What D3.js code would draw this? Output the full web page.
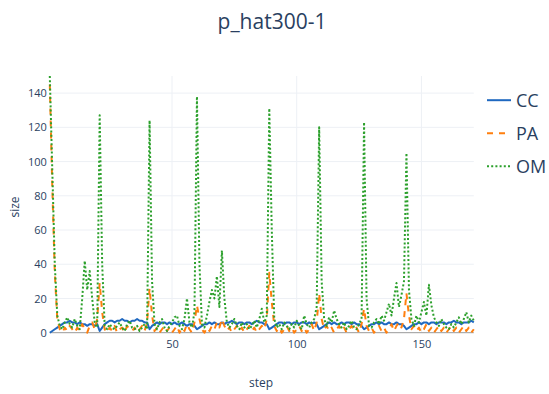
<!DOCTYPE html>
<html>
<head>
<meta charset="utf-8">
<script src="https://cdn.jsdelivr.net/npm/d3@7"></script>
<style>
  html, body { margin: 0; padding: 0; background: #fff; }
  svg { display: block; font-family: "Open Sans", sans-serif; }
</style>
</head>
<body>
<svg id="chart" width="549" height="394"></svg>
<script>
// Series sizes per step (steps 1..171)
const CC = [
  0, 1, 2, 3, 4, 5, 6, 6, 7, 6,
  6, 5, 6, 5, 5, 4, 5, 5, 4, 5,
  1, 3, 5, 6, 7, 7, 6, 7, 7, 8,
  7, 7, 6, 7, 7, 8, 7, 7, 6, 6,
  2, 4, 5, 6, 5, 6, 6, 5, 6, 5,
  6, 5, 5, 6, 5, 4, 5, 5, 4, 2,
  3, 4, 5, 5, 6, 5, 6, 5, 5, 6,
  5, 6, 6, 7, 6, 5, 6, 6, 5, 6,
  6, 5, 6, 7, 6, 6, 5, 5, 2, 3,
  4, 5, 6, 6, 5, 6, 6, 5, 6, 6,
  5, 6, 6, 5, 6, 5, 6, 5, 2, 3,
  4, 5, 6, 5, 6, 5, 5, 6, 5, 6,
  6, 5, 6, 5, 5, 4, 2, 3, 4, 5,
  5, 6, 5, 6, 5, 5, 6, 5, 5, 6,
  5, 5, 4, 2, 3, 4, 5, 5, 6, 5,
  6, 6, 5, 6, 6, 5, 6, 6, 6, 5,
  6, 6, 7, 6, 6, 5, 6, 6, 6, 7, 6
];
const PA = [
  145, 85, 35, 8, 2, 0, 3, 1, 4, 2,
  0, 3, 1, 5, 2, 0, 4, 6, 2, 8,
  29, 12, 2, 0, 3, 1, 4, 0, 2, 3,
  0, 4, 2, 1, 3, 0, 2, 4, 1, 6,
  26, 10, 1, 3, 0, 2, 4, 1, 3, 0,
  2, 4, 0, 3, 1, 5, 2, 0, 6, 16,
  8, 2, 0, 3, 1, 4, 2, 6, 3, 8,
  4, 1, 3, 0, 2, 4, 1, 3, 0, 2,
  4, 1, 3, 0, 2, 4, 2, 8, 35, 18,
  4, 1, 3, 0, 2, 4, 1, 3, 0, 2,
  4, 1, 3, 0, 2, 5, 1, 6, 23, 8,
  2, 4, 1, 3, 0, 2, 4, 1, 3, 0,
  2, 4, 1, 3, 0, 5, 14, 4, 1, 3,
  0, 2, 4, 1, 3, 0, 2, 5, 1, 4,
  6, 3, 8, 23, 10, 2, 4, 1, 3, 0,
  2, 5, 1, 3, 0, 2, 4, 1, 3, 0,
  2, 4, 1, 3, 0, 2, 4, 1, 3, 0, 2
];
const OM = [
  150, 95, 40, 10, 4, 2, 6, 9, 5, 3,
  8, 4, 2, 20, 42, 25, 36, 20, 6, 3,
  127, 40, 4, 2, 5, 3, 2, 4, 6, 3,
  1, 5, 7, 3, 2, 4, 1, 3, 5, 2,
  124, 30, 5, 2, 6, 8, 3, 1, 4, 6,
  9, 10, 4, 2, 8, 20, 6, 3, 12, 138,
  40, 5, 3, 10, 18, 25, 20, 33, 15, 48,
  20, 6, 3, 5, 8, 4, 2, 6, 3, 5,
  2, 4, 7, 3, 8, 14, 6, 10, 131, 60,
  8, 3, 5, 2, 6, 4, 2, 5, 3, 7,
  4, 2, 10, 5, 3, 6, 8, 15, 120, 30,
  8, 4, 9, 6, 13, 8, 5, 3, 6, 2,
  4, 7, 3, 2, 5, 8, 123, 20, 4, 3,
  6, 8, 5, 10, 7, 12, 17, 10, 20, 29,
  15, 22, 30, 105, 25, 8, 4, 10, 6, 12,
  18, 10, 28, 16, 9, 6, 4, 8, 5, 3,
  2, 5, 3, 6, 9, 5, 8, 12, 6, 10, 7
];
const steps = d3.range(1, CC.length + 1);
const xTicks = [50, 100, 150];
const yTicks = [0, 20, 40, 60, 80, 100, 120, 140];
const seriesNames = ["CC", "PA", "OM"];

const textColor = "#2a3f5f";

const series = [
  { name: seriesNames[0], values: CC, color: "#1f68c0", dash: null },
  { name: seriesNames[1], values: PA, color: "#ff7f0e", dash: "6,6" },
  { name: seriesNames[2], values: OM, color: "#2ca02c", dash: "2,2.2" }
];

const svg = d3.select("#chart");
const plot = { left: 49.8, right: 473.8, top: 76, bottom: 332.7 };

const x = d3.scaleLinear().domain([1, 171]).range([plot.left, plot.right]);
const y = d3.scaleLinear().domain([0, 150]).range([plot.bottom, plot.top]);

// Grid lines
svg.append("g").selectAll("line.hg")
  .data(yTicks.filter(d => d > 0)).join("line")
  .attr("x1", plot.left).attr("x2", plot.right)
  .attr("y1", d => y(d)).attr("y2", d => y(d))
  .attr("stroke", "#edf0f5").attr("stroke-width", 1);
svg.append("g").selectAll("line.vg")
  .data(xTicks).join("line")
  .attr("x1", d => x(d)).attr("x2", d => x(d))
  .attr("y1", plot.top).attr("y2", plot.bottom)
  .attr("stroke", "#edf0f5").attr("stroke-width", 1);

// Axes (labels only)
const yAxis = d3.axisLeft(y).tickValues(yTicks).tickSize(0).tickPadding(3);
svg.append("g").attr("transform", `translate(${plot.left},0)`).call(yAxis)
  .call(g => g.select(".domain").remove())
  .call(g => g.selectAll("text").attr("fill", textColor).attr("font-size", 11)
    .attr("font-family", "'Open Sans', sans-serif"));

const xAxis = d3.axisBottom(x).tickValues(xTicks).tickSize(0).tickPadding(8);
svg.append("g").attr("transform", `translate(0,${plot.bottom})`).call(xAxis)
  .call(g => g.select(".domain").remove())
  .call(g => g.selectAll("text").attr("fill", textColor).attr("font-size", 11)
    .attr("font-family", "'Open Sans', sans-serif"));

// Zero line
svg.append("line")
  .attr("x1", plot.left).attr("x2", plot.right)
  .attr("y1", y(0)).attr("y2", y(0))
  .attr("stroke", "#999").attr("stroke-width", 1);

// Series lines
const line = d3.line().x((d, i) => x(steps[i])).y(d => y(d));
series.forEach(s => {
  svg.append("path")
    .datum(s.values)
    .attr("d", line)
    .attr("fill", "none")
    .attr("stroke", s.color)
    .attr("stroke-width", 2)
    .attr("stroke-dasharray", s.dash)
    .attr("stroke-linejoin", "round");
});

// Title
svg.append("text")
  .attr("x", 272).attr("y", 29)
  .attr("text-anchor", "middle")
  .attr("font-size", 21)
  .attr("fill", textColor)
  .text("p_hat300-1");

// Axis titles
svg.append("text")
  .attr("x", 261).attr("y", 387)
  .attr("text-anchor", "middle")
  .attr("font-size", 12)
  .attr("fill", textColor)
  .text("step");
svg.append("text")
  .attr("transform", "translate(19,207) rotate(-90)")
  .attr("text-anchor", "middle")
  .attr("font-size", 12)
  .attr("fill", textColor)
  .text("size");

// Legend
const legend = svg.append("g");
series.forEach((s, i) => {
  const by = 106.7 + i * 33;
  legend.append("line")
    .attr("x1", 487).attr("x2", 511)
    .attr("y1", by - 6.5).attr("y2", by - 6.5)
    .attr("stroke", s.color).attr("stroke-width", 2)
    .attr("stroke-dasharray", s.dash);
  legend.append("text")
    .attr("x", 516).attr("y", by)
    .attr("font-size", 18)
    .attr("fill", textColor)
    .text(s.name);
});
</script>
</body>
</html>
